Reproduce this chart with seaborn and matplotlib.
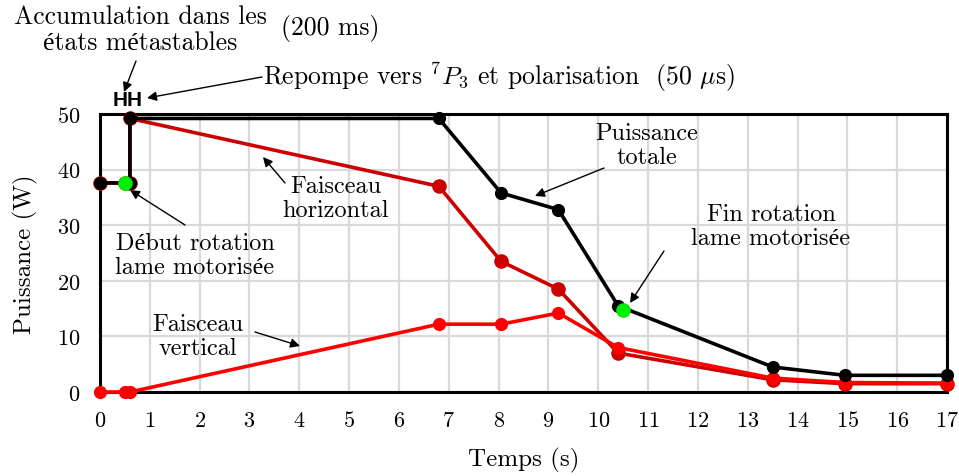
import matplotlib
matplotlib.use("Agg")
import matplotlib.pyplot as plt
import seaborn as sns
import numpy as np

# ---- data ----
t_total = [0, 0.6, 0.6, 6.8, 8.05, 9.2, 10.4, 13.5, 14.95, 17]
p_total = [37.6, 37.6, 49.2, 49.2, 35.8, 32.8, 15.5, 4.5, 3.0, 3.0]

t_horiz = [0, 0.5, 0.6, 0.6, 6.8, 8.05, 9.2, 10.4, 13.5, 14.95, 17]
p_horiz = [37.6, 37.6, 37.6, 49.2, 37.0, 23.5, 18.5, 7.0, 2.2, 1.5, 1.5]

t_vert = [0, 0.5, 0.6, 6.8, 8.05, 9.2, 10.4, 13.5, 14.95, 17]
p_vert = [0, 0, 0, 12.2, 12.2, 14.2, 8.0, 2.5, 1.7, 1.6]

t_green = [0.5, 10.5]
p_green = [37.6, 14.8]

x_ticks = list(range(0, 18))
y_ticks = [0, 10, 20, 30, 40, 50]

sns.set_theme(style="white")
plt.rcParams['font.family'] = ['cmr10', 'Liberation Serif']
plt.rcParams['mathtext.fontset'] = 'cm'
plt.rcParams['axes.formatter.use_mathtext'] = True
plt.rcParams['text.color'] = 'black'

W, H = 959, 477
fig = plt.figure(figsize=(W / 100, H / 100), dpi=100)
ax = fig.add_axes([100 / W, 1 - 393 / H, (947 - 100) / W, (393 - 115) / H])

ax.set_xlim(0, 17)
ax.set_ylim(0, 50)
ax.set_xticks(x_ticks)
ax.set_yticks(y_ticks)
ax.grid(True, color='#d9d9d9', lw=1.6, zorder=0)
ax.set_axisbelow(True)
for s in ax.spines.values():
    s.set_color('black')
    s.set_linewidth(2.2)
    s.set_zorder(3)
ax.tick_params(axis='x', length=0, labelsize=16, pad=13, colors='black')
ax.tick_params(axis='y', length=0, labelsize=16, pad=14, colors='black')

lw = 2.6
ms = 9.5
sns.lineplot(x=t_horiz, y=p_horiz, ax=ax, estimator=None, sort=False, color='#cc0000',
             lw=lw, marker='o', markersize=ms + 1, markeredgewidth=0, clip_on=False, zorder=4)
sns.lineplot(x=t_vert, y=p_vert, ax=ax, estimator=None, sort=False, color='#ff0000',
             lw=lw, marker='o', markersize=ms, markeredgewidth=0, clip_on=False, zorder=5)
sns.lineplot(x=t_total, y=p_total, ax=ax, estimator=None, sort=False, color='black',
             lw=lw, marker='o', markersize=ms, markeredgewidth=0, clip_on=False, zorder=6)
sns.scatterplot(x=t_green, y=p_green, ax=ax, color='#00ee00', s=110, linewidth=0,
                clip_on=False, zorder=7)

ax.set_xlabel('Temps (s)', fontsize=18, labelpad=12, color='black')
ax.set_ylabel('Puissance (W)', fontsize=18, labelpad=14, color='black')


def fp(x, y):
    return (x / W, 1 - y / H)


fs = 17.5
arrow = dict(arrowstyle='-|>', color='black', lw=1.0, mutation_scale=14, shrinkA=0, shrinkB=0)


def ann(text, tip, tail, pos, ha='center', size=fs):
    ax.annotate('', xy=fp(*tip), xycoords='figure fraction',
                xytext=fp(*tail), textcoords='figure fraction', arrowprops=arrow)
    fig.text(*fp(*pos), text, ha=ha, va='center', fontsize=size, linespacing=1.15, color='black')


ann('Accumulation dans les\nétats métastables', (124, 93), (136, 62), (140, 30), size=18.5)
fig.text(*fp(330, 28), '(200 ms)', ha='center', va='center', fontsize=18.5)
fig.text(*fp(128, 101), 'HH', ha='center', va='center', fontsize=15,
         family='Liberation Sans', weight='bold', color='black')
ann('Repompe vers $^7P_3$ et polarisation  (50 $\\mu$s)', (147, 99), (262, 78), (263, 77),
    ha='left', size=18.5)
ann('Puissance\ntotale', (535, 197), (604, 169), (647, 146))
ann('Faisceau\nhorizontal', (263, 158), (285, 184), (336, 199))
ann('Début rotation\nlame motorisée', (130, 191), (185, 226), (195, 256))
ann('Fin rotation\nlame motorisée', (630, 304), (664, 252), (771, 227))
ann('Faisceau\nvertical', (300, 347), (255, 333), (198, 337))

fig.savefig('out.png', dpi=100)
